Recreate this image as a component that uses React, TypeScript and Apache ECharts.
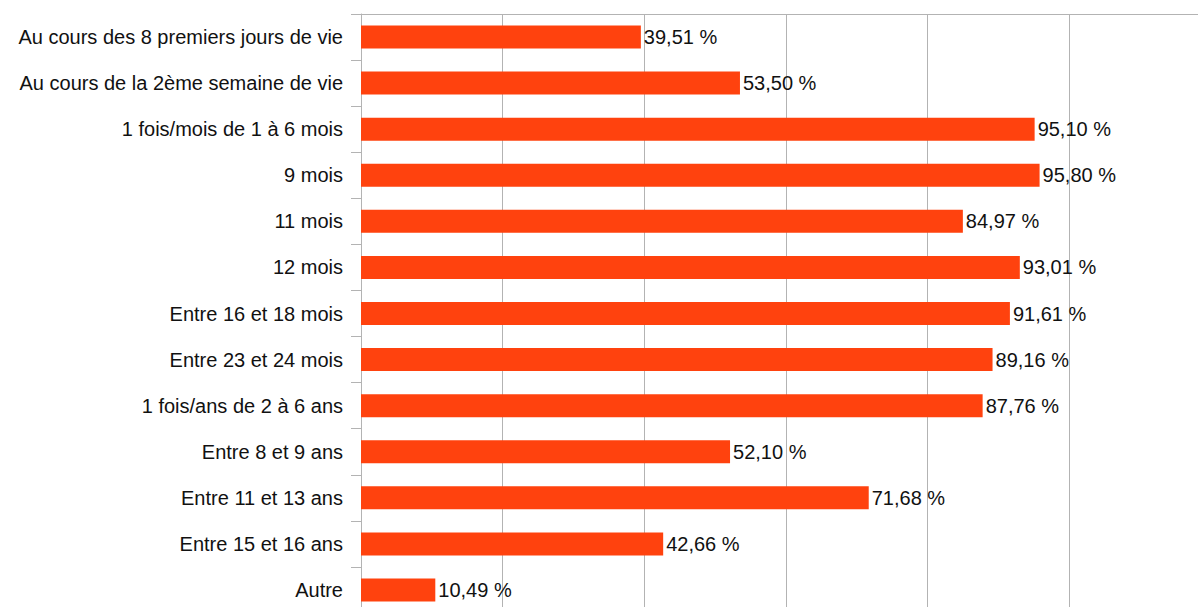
import React, { useEffect, useRef } from "react";
import * as echarts from "echarts";

const categories = [
  "Au cours des 8 premiers jours de vie",
  "Au cours de la 2ème semaine de vie",
  "1 fois/mois de 1 à 6 mois",
  "9 mois",
  "11 mois",
  "12 mois",
  "Entre 16 et 18 mois",
  "Entre 23 et 24 mois",
  "1 fois/ans de 2 à 6 ans",
  "Entre 8 et 9 ans",
  "Entre 11 et 13 ans",
  "Entre 15 et 16 ans",
  "Autre",
];

const values = [39.51, 53.5, 95.1, 95.8, 84.97, 93.01, 91.61, 89.16, 87.76, 52.1, 71.68, 42.66, 10.49];

const xMin = 0;
const xMax = 120;
const xInterval = 20;

const fmt = (v: number) => v.toFixed(2).replace(".", ",") + " %";

export default function App() {
  const ref = useRef<HTMLDivElement>(null);
  useEffect(() => {
    if (!ref.current) return;
    const chart = echarts.init(ref.current, null, { renderer: "svg" });
    const font = "'Liberation Sans', Arial, sans-serif";
    chart.setOption({
      animation: false,
      grid: { left: 361, top: 14, width: 850, height: 599 },
      xAxis: {
        type: "value",
        position: "top",
        min: xMin,
        max: xMax,
        interval: xInterval,
        axisLine: { show: true, lineStyle: { color: "#b3b3b3", width: 1 } },
        axisTick: { show: false },
        axisLabel: { show: false },
        splitLine: { show: true, lineStyle: { color: "#b3b3b3", width: 1 } },
      },
      yAxis: {
        type: "category",
        data: categories,
        inverse: true,
        boundaryGap: true,
        axisLine: { show: true, lineStyle: { color: "#b3b3b3", width: 1 } },
        axisTick: { show: true, length: 10, lineStyle: { color: "#b3b3b3" } },
        axisLabel: { margin: 18, color: "#111", fontSize: 20, fontFamily: font },
      },
      series: [
        {
          type: "bar",
          data: values,
          barWidth: 23,
          itemStyle: { color: "#ff420e" },
          label: {
            show: true,
            position: "right",
            distance: 3,
            color: "#111",
            fontSize: 20,
            fontFamily: font,
            formatter: (p: any) => fmt(p.value),
          },
        },
      ],
    });
    return () => chart.dispose();
  }, []);
  return (
    <div style={{ position: "fixed", left: 0, top: 0, width: 1198, height: 607, overflow: "hidden", background: "#fff" }}>
      <div ref={ref} style={{ width: 1230, height: 630 }} />
    </div>
  );
}
